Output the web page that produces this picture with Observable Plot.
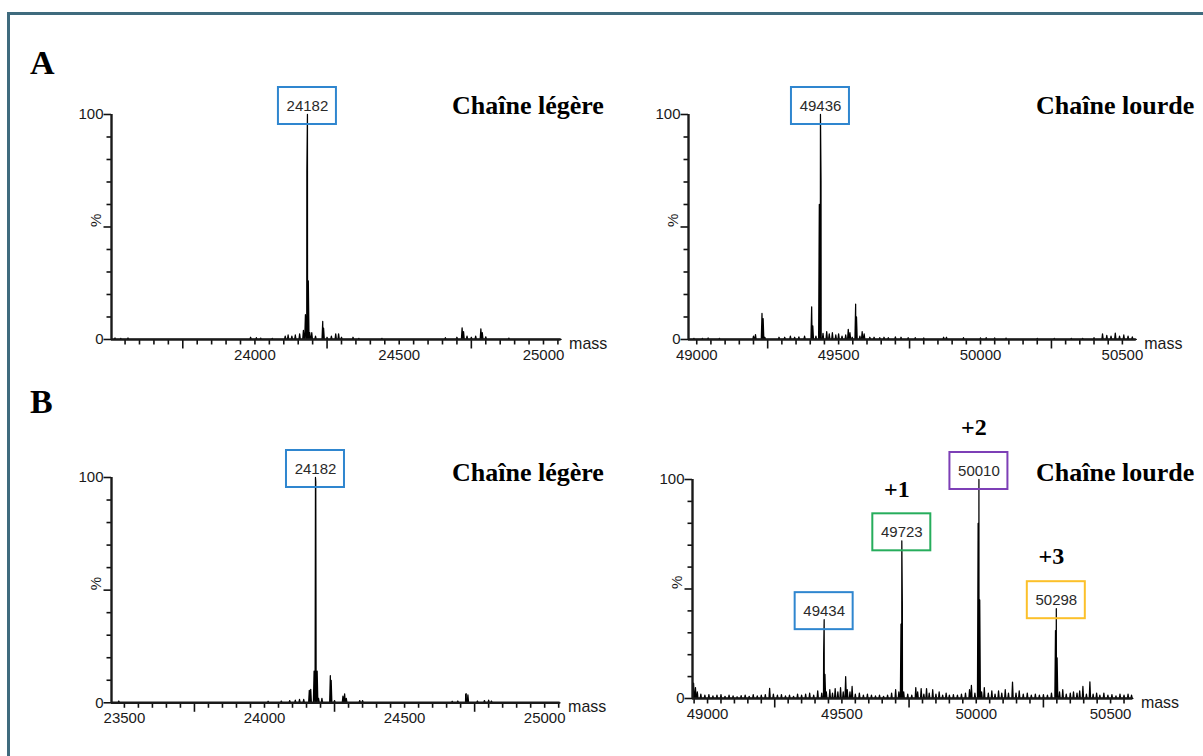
<!DOCTYPE html>
<html><head><meta charset="utf-8">
<script src="https://cdn.jsdelivr.net/npm/d3@7"></script>
<script src="https://cdn.jsdelivr.net/npm/@observablehq/plot@0.6"></script>
<style>
body{margin:0;background:#fff;}
#page{position:relative;width:1203px;height:756px;overflow:hidden;background:#fff;}
#frame{position:absolute;left:7px;top:12px;width:1300px;height:800px;border-top:3px solid #3f6b7e;border-left:3px solid #3f6b7e;}
.lbl{position:absolute;font-family:"Liberation Serif","Times New Roman",serif;font-weight:bold;line-height:1;white-space:nowrap;color:#000;}
</style></head><body><div id="page"><div id="frame"></div></div>
<script>
// ---------- DATA (mass, relative intensity %) ----------
const aLightPeaks = [[23515,0.7],[23535,0.5],[23560,0.7],[23985,1],[24005,0.8],[24020,0.6],[24060,0.5],[24105,1.5],[24115,2],[24128,1.5],[24140,2],[24155,2.5],[24168,4],[24175,11],[24180,75],[24182,100],[24185,26],[24190,3],[24197,3],[24210,1.5],[24235,8],[24238,5],[24250,1],[24265,1.5],[24280,2.5],[24290,2.5],[24300,1],[24340,1],[24360,0.5],[24440,0.5],[24660,0.8],[24700,1],[24718,5.2],[24723,3.5],[24735,1.5],[24750,1],[24765,1.5],[24783,4.7],[24788,3],[24800,1.2],[24880,0.6]];
const aHeavyPeaks = [[48990,0.5],[49020,0.5],[49040,0.7],[49080,0.5],[49200,1.5],[49207,2.2],[49230,11.6],[49234,9.3],[49240,1],[49290,1],[49310,1],[49330,1.5],[49345,1],[49360,1.2],[49380,1.5],[49405,14.5],[49409,6],[49420,1.5],[49432,60],[49436,100],[49438,70.5],[49445,2.7],[49458,3.5],[49467,2.5],[49478,3],[49490,2],[49500,2.5],[49512,1.5],[49525,2],[49534,4.5],[49540,3],[49548,1],[49560,15.7],[49563,10],[49575,1.5],[49583,3.5],[49590,2.5],[49610,1],[49625,1],[49645,0.8],[49660,1],[49675,0.8],[49700,1.2],[49720,1],[49745,0.8],[49770,0.8],[49800,0.7],[49870,1],[49880,1],[49940,0.8],[50000,0.7],[50020,0.8],[50050,0.7],[50090,0.6],[50200,0.5],[50260,0.5],[50320,0.5],[50360,0.5],[50400,0.8],[50430,2.5],[50445,1.8],[50460,1.5],[50475,2.8],[50490,1.5],[50505,2],[50520,1.5],[50535,1.2]];
const bLightPeaks = [[23480,0.8],[24013,0.7],[24060,0.8],[24090,1],[24110,1.2],[24125,1.5],[24140,1.5],[24160,5.5],[24165,6],[24177,14],[24182,100],[24183,98],[24188,14],[24193,2],[24205,2],[24235,12],[24238,10],[24250,1],[24280,3],[24286,4],[24292,2],[24340,1],[24350,1],[24670,0.7],[24690,0.8],[24718,3.9],[24720,4],[24726,3.5],[24760,0.8],[24785,1],[24800,1.2],[24810,0.8]];
const bHeavyPeaks = [[48948,7],[48955,5],[48962,3],[48975,2],[48990,1.5],[49005,1.8],[49020,1.2],[49035,1.5],[49050,1.8],[49065,1],[49080,1.5],[49095,1.2],[49110,0.8],[49125,1.3],[49140,1.5],[49155,1],[49170,1.8],[49185,1.2],[49200,1.5],[49215,1.8],[49231,4.6],[49245,2],[49260,1.5],[49275,1.8],[49290,1.2],[49305,1.5],[49320,1],[49335,2],[49350,1.5],[49365,2],[49380,2.5],[49395,1.5],[49410,3.5],[49425,2.5],[49432,20],[49434,36],[49437,11],[49442,3],[49455,4],[49465,2.5],[49475,4.5],[49485,3],[49495,5],[49505,3],[49514,10],[49520,4],[49530,3],[49538,5.5],[49550,2],[49565,2.5],[49580,1.5],[49595,2],[49610,1.5],[49625,1.2],[49640,1.5],[49655,1],[49670,1.5],[49685,2.5],[49700,4],[49712,3],[49720,34],[49723,72],[49725,43],[49730,3],[49745,2],[49760,1.5],[49775,5],[49782,3],[49795,4.5],[49805,2],[49815,4.5],[49825,2.5],[49838,4],[49850,2],[49862,3],[49875,1.5],[49888,2.5],[49900,1.5],[49915,1.8],[49930,1.5],[49945,2],[49960,2.5],[49975,4],[49982,6],[49995,2.5],[50007,80],[50010,100],[50013,45],[50020,3],[50030,5],[50045,2.5],[50058,3.5],[50070,2],[50083,3.5],[50095,2.5],[50108,4],[50120,2.5],[50135,7.5],[50148,2.5],[50160,3.5],[50175,2],[50190,2.5],[50205,1.5],[50220,2],[50235,1.5],[50250,1.8],[50265,1.5],[50280,2.5],[50295,31],[50298,41],[50301,18.6],[50310,3],[50322,4],[50335,2],[50350,2.5],[50362,3],[50375,2.5],[50385,3.5],[50397,5.5],[50410,2],[50423,7.6],[50435,2],[50448,2.5],[50460,1.5],[50475,2.5],[50490,1.5],[50505,1.8],[50520,1.2],[50535,2],[50550,1.5],[50565,2],[50578,1.5]];

const aLightDomain = [23503, 25061];
const aHeavyDomain = [48971, 50549];
const bLightDomain = [23454, 25055];
const bHeavyDomain = [48944, 50583];

const aLightTickLabels = [24000, 24500, 25000];
const aHeavyTickLabels = [49000, 49500, 50000, 50500];
const bLightTickLabels = [23500, 24000, 24500, 25000];
const bHeavyTickLabels = [49000, 49500, 50000, 50500];
const yTickLabels = [0, 100];

const aLightBoxes = [{mass: 24182, pct: 100, label: "24182"}];
const aHeavyBoxes = [{mass: 49436, pct: 100, label: "49436"}];
const bLightBoxes = [{mass: 24182, pct: 100, label: "24182"}];
const bHeavyBoxes = [{mass: 49434, pct: 36, label: "49434"},{mass: 49723, pct: 72, label: "49723"},{mass: 50010, pct: 100, label: "50010"},{mass: 50298, pct: 41, label: "50298"}];
const bHeavyCharges = [{mass: 49723, pct: 72, label: "+1"},{mass: 50010, pct: 100, label: "+2"},{mass: 50298, pct: 41, label: "+3"}];

const titles = ["A", "B"];
const chainNames = ["Chaîne légère", "Chaîne lourde"];

// ---------- STYLE ----------
const boxColors = {"24182": "#2f86cf", "49436": "#2f86cf", "49434": "#2f86cf", "49723": "#26ad5c", "50010": "#7d3fb6", "50298": "#fcc02a"};

function drawPanel(c) {
  const ML = 75, MR = 60, MT = 85, MB = 32;
  const FW = c.fx1 - c.fx0, FH = c.fy1 - c.fy0;
  const W = FW + ML + MR;
  const H = FH + MT + MB;
  const [x0, x1] = c.domain;
  const w = 2.5;
  const pts = [];
  for (const [m, h] of c.peaks) { pts.push([m - w, 0], [m, h], [m + w, 0]); }
  pts.sort((a, b) => a[0] - b[0]);
  pts.unshift([x0, 0]); pts.push([x1, 0]);
  const minor = d3.range(Math.ceil(x0 / 50) * 50, x1, 50).filter(d => d > x0 && d % 250 !== 0);
  const major = d3.range(Math.ceil(x0 / 250) * 250, x1, 250).filter(d => d > x0 && d % 500 !== 0);
  const five = d3.range(Math.ceil(x0 / 500) * 500, x1, 500).filter(d => d > x0);
  const yMinor = d3.range(10, 100, 10).filter(d => d !== 50);
  const yMajor = [0, 50, 100];
  const tickColor = "#111";
  const marks = [
    // y ticks (to the left of the frame)
    Plot.tickY(yMinor, {y: d => d, insetLeft: -4.5, insetRight: FW, stroke: tickColor, strokeWidth: 1.6}),
    Plot.tickY(yMajor, {y: d => d, insetLeft: -7.5, insetRight: FW, stroke: tickColor, strokeWidth: 1.6}),
    Plot.axisY({ticks: yTickLabels, tickSize: 0, tickPadding: 8, tickFormat: d => String(d), label: null, fontSize: 15}),
    Plot.text(["%"], {y: () => 50, frameAnchor: "left", dx: -15, rotate: -90, text: d => d, fontSize: 15}),
    // x ticks (below the frame)
    Plot.tickX(minor, {x: d => d, insetTop: FH, insetBottom: -5.5, stroke: tickColor, strokeWidth: 1.6}),
    Plot.tickX(major, {x: d => d, insetTop: FH, insetBottom: -9.5, stroke: tickColor, strokeWidth: 1.6}),
    Plot.tickX(five, {x: d => d, insetTop: FH, insetBottom: -5.5, stroke: tickColor, strokeWidth: 1.6}),
    Plot.axisX({ticks: c.tickLabels, tickSize: 0, tickPadding: 10, tickFormat: d => String(d), label: null, fontSize: 15}),
    Plot.line(pts, {x: d => d[0], y: d => d[1], stroke: "#000", strokeWidth: 1.25}),
    Plot.ruleY([0], {strokeWidth: 2.6}),
    Plot.ruleX([x0], {strokeWidth: 2.4}),
    Plot.text(["mass"], {x: () => x1, y: () => 0, text: d => d, textAnchor: "start", dx: 8, dy: 4, fontSize: 16}),
  ];
  for (const b of c.boxes) {
    marks.push(Plot.rect([b], {x1: "mass", x2: "mass", y1: "pct", y2: "pct", insetLeft: -29, insetRight: -29, insetTop: -27, insetBottom: -10, fill: "none", stroke: boxColors[b.label], strokeWidth: 2}));
    marks.push(Plot.text([b], {x: "mass", y: "pct", text: "label", dy: -8.5, fontSize: 15, fill: "#2a2a2a"}));
  }
  if (c.charges) {
    marks.push(Plot.text(c.charges, {x: "mass", y: "pct", text: "label", dy: -52, dx: -5, fontSize: 24, fontWeight: "bold", fontFamily: "'Liberation Serif', serif", fill: "#000"}));
  }
  const svg = Plot.plot({
    width: W, height: H, marginLeft: ML, marginRight: MR, marginTop: MT, marginBottom: MB,
    x: {domain: c.domain, label: null, axis: null},
    y: {domain: [0, 100], label: null, axis: null},
    style: {fontFamily: "'Liberation Sans', Arial, sans-serif", fontSize: "15px", color: "#1a1a1a", background: "transparent", overflow: "visible"},
    marks
  });
  svg.style.position = "absolute";
  svg.style.left = (c.fx0 - ML) + "px";
  svg.style.top = (c.fy0 - MT) + "px";
  svg.style.maxWidth = "none";
  document.getElementById("page").appendChild(svg);
}

drawPanel({peaks: aLightPeaks, domain: aLightDomain, tickLabels: aLightTickLabels, boxes: aLightBoxes, fx0: 111.4, fx1: 561, fy0: 114, fy1: 339});
drawPanel({peaks: aHeavyPeaks, domain: aHeavyDomain, tickLabels: aHeavyTickLabels, boxes: aHeavyBoxes, fx0: 688, fx1: 1135.8, fy0: 114, fy1: 339});
drawPanel({peaks: bLightPeaks, domain: bLightDomain, tickLabels: bLightTickLabels, boxes: bLightBoxes, fx0: 111.4, fx1: 560, fy0: 476.7, fy1: 702});
drawPanel({peaks: bHeavyPeaks, domain: bHeavyDomain, tickLabels: bHeavyTickLabels, boxes: bHeavyBoxes, charges: bHeavyCharges, fx0: 692.3, fx1: 1132.7, fy0: 479, fy1: 698});

// ---------- TEXT LABELS ----------
function addLabel(text, left, baseline, size) {
  const d = document.createElement("div");
  d.className = "lbl";
  d.textContent = text;
  d.style.fontSize = size + "px";
  d.style.left = left + "px";
  d.style.top = (baseline - 0.8375 * size) + "px";
  document.getElementById("page").appendChild(d);
}
addLabel(titles[0], 30, 74, 34);
addLabel(titles[1], 30, 413, 34);
addLabel(chainNames[0], 452, 115, 26);
addLabel(chainNames[1], 1036, 115, 26);
addLabel(chainNames[0], 452, 481.5, 26);
addLabel(chainNames[1], 1036, 481.5, 26);
</script></body></html>
